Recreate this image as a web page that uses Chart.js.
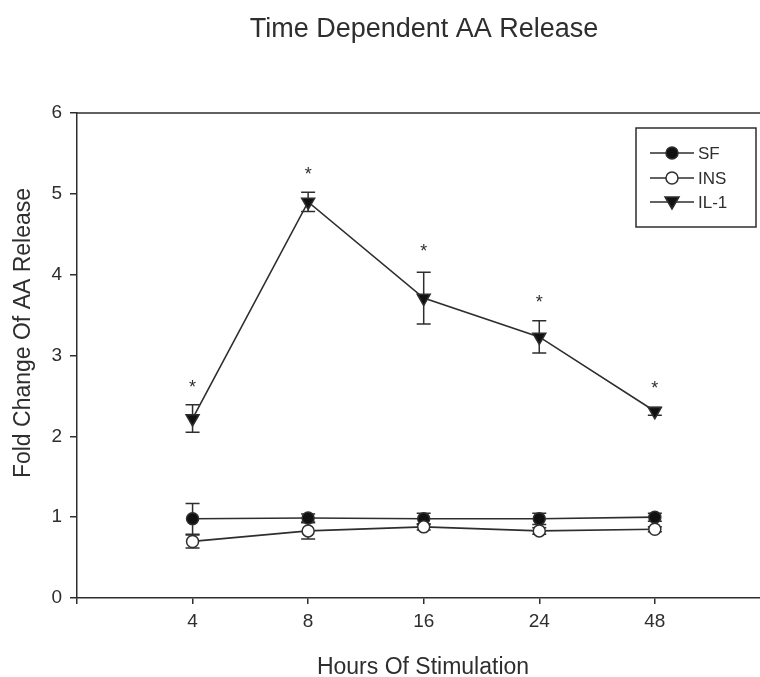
<!DOCTYPE html>
<html><head><meta charset="utf-8">
<script src="https://cdn.jsdelivr.net/npm/chart.js@4"></script>
<style>html,body{margin:0;padding:0;background:#fff}canvas{display:block}</style>
</head><body>
<canvas id="c" width="760" height="677"></canvas>
<script>
// ---- data ----
const hours = ['4', '8', '16', '24', '48'];
const sfMean  = [0.98, 0.99, 0.98, 0.98, 1.00];
const sfErr   = [0.19, 0.05, 0.07, 0.07, 0.05];
const insMean = [0.70, 0.83, 0.88, 0.83, 0.85];
const insErr  = [0.08, 0.10, 0.04, 0.04, 0.03];
const il1Mean = [2.22, 4.90, 3.71, 3.23, 2.31];
const il1Err  = [0.17, 0.12, 0.32, 0.20, 0.05];
const asteriskY = [2.63, 5.27, 4.32, 3.69, 2.62];
const yTicks = [0, 1, 2, 3, 4, 5, 6];
const seriesNames = ['SF', 'INS', 'IL-1'];

const INK = '#2e2e2e';
const FONT = '"Liberation Sans", Arial, sans-serif';

const means = [sfMean, insMean, il1Mean];
const errs = [sfErr, insErr, il1Err];
const toPts = arr => arr.map((v, i) => ({ x: i + 1, y: v }));

function drawMarker(ctx, kind, x, y) {
  ctx.save();
  ctx.lineWidth = 1.5;
  ctx.strokeStyle = INK;
  if (kind === 0 || kind === 1) {
    ctx.beginPath();
    ctx.arc(x, y, 6, 0, Math.PI * 2);
    ctx.fillStyle = kind === 0 ? '#111' : '#fff';
    ctx.fill(); ctx.stroke();
  } else {
    ctx.beginPath();
    ctx.moveTo(x - 7, y - 5);
    ctx.lineTo(x + 7, y - 5);
    ctx.lineTo(x, y + 7);
    ctx.closePath();
    ctx.fillStyle = '#111';
    ctx.fill(); ctx.stroke();
  }
  ctx.restore();
}

const extras = {
  id: 'extras',
  beforeDatasetsDraw(chart) {
    const { ctx, scales: { x, y } } = chart;
    ctx.save();
    ctx.strokeStyle = INK;
    ctx.lineWidth = 1.5;
    means.forEach((m, k) => {
      m.forEach((v, i) => {
        const px = x.getPixelForValue(i + 1);
        const top = y.getPixelForValue(v + errs[k][i]);
        const bot = y.getPixelForValue(v - errs[k][i]);
        ctx.beginPath();
        ctx.moveTo(px, top); ctx.lineTo(px, bot);
        ctx.moveTo(px - 7, top); ctx.lineTo(px + 7, top);
        ctx.moveTo(px - 7, bot); ctx.lineTo(px + 7, bot);
        ctx.stroke();
      });
    });
    ctx.restore();
  },
  afterDraw(chart) {
    const { ctx, chartArea, scales: { x, y } } = chart;
    ctx.save();
    // top frame line
    ctx.strokeStyle = INK;
    ctx.lineWidth = 1.5;
    ctx.beginPath();
    ctx.moveTo(chartArea.left, chartArea.top);
    ctx.lineTo(chartArea.right, chartArea.top);
    ctx.stroke();

    // asterisks
    ctx.fillStyle = INK;
    ctx.font = '18px ' + FONT;
    ctx.textAlign = 'center';
    ctx.textBaseline = 'middle';
    asteriskY.forEach((v, i) => {
      ctx.fillText('*', x.getPixelForValue(i + 1), y.getPixelForValue(v) + 3);
    });

    // legend
    const lx = 636, ly = 128, lw = 120, lh = 99;
    ctx.strokeStyle = INK;
    ctx.lineWidth = 1.5;
    ctx.strokeRect(lx, ly, lw, lh);
    const rows = [153, 178, 202];
    ctx.font = '17px ' + FONT;
    ctx.textAlign = 'left';
    ctx.textBaseline = 'middle';
    seriesNames.forEach((name, k) => {
      const ry = rows[k];
      ctx.beginPath();
      ctx.moveTo(650, ry); ctx.lineTo(694, ry);
      ctx.stroke();
      drawMarker(ctx, k, 672, ry);
      ctx.fillStyle = INK;
      ctx.fillText(name, 698, ry + 1);
    });

    // titles
    ctx.fillStyle = INK;
    ctx.textAlign = 'center';
    ctx.textBaseline = 'alphabetic';
    ctx.font = '27px ' + FONT;
    ctx.fillText('Time Dependent AA Release', 424, 37);
    ctx.font = '23px ' + FONT;
    ctx.fillText('Hours Of Stimulation', 423, 674);
    ctx.translate(30, 333);
    ctx.rotate(-Math.PI / 2);
    ctx.fillText('Fold Change Of AA Release', 0, 0);
    ctx.restore();
  }
};

const mkSet = (k, style) => Object.assign({
  label: seriesNames[k],
  data: toPts(means[k]),
  borderColor: INK,
  borderWidth: 1.6,
  pointBorderColor: INK,
  pointBorderWidth: 1.5,
  pointRadius: 6,
  pointHoverRadius: 6,
  tension: 0,
  fill: false
}, style);

new Chart(document.getElementById('c'), {
  type: 'line',
  data: {
    datasets: [
      mkSet(2, { pointStyle: 'triangle', pointRotation: 180, pointRadius: 7.5, pointHoverRadius: 7.5, pointBackgroundColor: '#111' }),
      mkSet(1, { pointStyle: 'circle', pointBackgroundColor: '#fff' }),
      mkSet(0, { pointStyle: 'circle', pointBackgroundColor: '#111' })
    ]
  },
  options: {
    responsive: false,
    animation: false,
    devicePixelRatio: 1,
    layout: { autoPadding: false, padding: { top: 113, right: 0, left: 0, bottom: 0 } },
    plugins: { legend: { display: false }, tooltip: { enabled: false }, title: { display: false } },
    scales: {
      x: {
        type: 'linear',
        min: 0,
        max: 5.91,
        afterBuildTicks: s => { s.ticks = [0, 1, 2, 3, 4, 5].map(v => ({ value: v })); },
        afterFit: s => { s.height = 79; s.paddingRight = 0; s.paddingLeft = 0; },
        ticks: {
          autoSkip: false,
          maxRotation: 0,
          padding: 6,
          color: INK,
          font: { family: FONT, size: 19 },
          callback: v => (v >= 1 && v <= hours.length) ? hours[v - 1] : ''
        },
        grid: { drawOnChartArea: false, tickLength: 6, color: INK, lineWidth: 1.5 },
        border: { display: true, color: INK, width: 1.5 }
      },
      y: {
        min: 0,
        max: 6,
        afterBuildTicks: s => { s.ticks = yTicks.map(v => ({ value: v })); },
        afterFit: s => { s.width = 77; s.paddingTop = 0; s.paddingBottom = 0; },
        ticks: {
          padding: 8,
          color: INK,
          font: { family: FONT, size: 19 }
        },
        grid: { drawOnChartArea: false, tickLength: 7, color: INK, lineWidth: 1.5 },
        border: { display: true, color: INK, width: 1.5 }
      }
    }
  },
  plugins: [extras]
});
</script>
</body></html>
